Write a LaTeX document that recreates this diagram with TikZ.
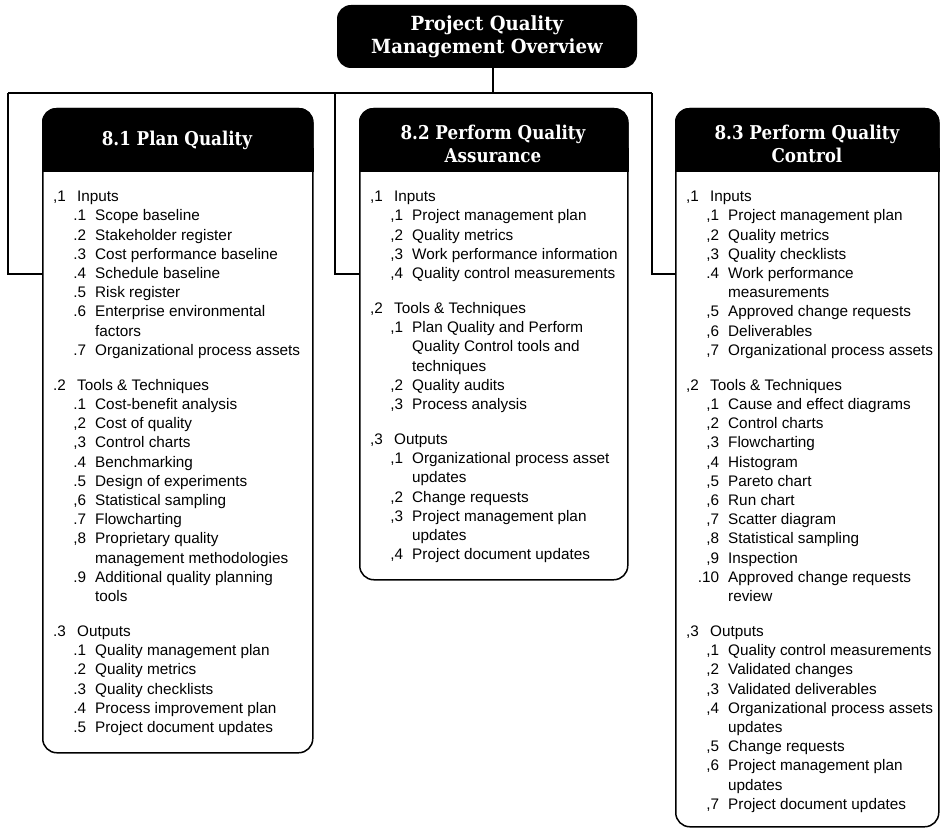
\documentclass[tikz,border=0pt]{standalone}
\usepackage{fontspec}
\setmainfont{Liberation Sans}
\newfontfamily\slab{DejaVu Serif}[FakeStretch=0.88]
\newfontfamily\slabwide{DejaVu Serif}[FakeStretch=0.93]
\usetikzlibrary{calc}
\newcommand\lone[2]{\makebox[24pt][l]{#1}#2}
\newcommand\ltwo[2]{\makebox[33pt][r]{#1}\hspace{9pt}#2}
\begin{document}
\begin{tikzpicture}[x=1pt,y=-1pt,
  boxbody/.style={draw, line width=1.5pt, rounded corners=14pt, anchor=north west, inner sep=0pt},
  headtext/.style={text=white, align=center, font=\slab\bfseries\fontsize{19}{23}\selectfont},
  titlebox/.style={fill=black, rounded corners=14pt, minimum width=300pt, minimum height=63pt, inner sep=0pt, text=white, align=center, font=\slabwide\bfseries\fontsize{19.5}{23}\selectfont},
  bodytext/.style={anchor=north west, inner sep=0pt, align=left, font=\fontsize{15.3}{19.2}\selectfont},
  link/.style={draw, line width=1.5pt}]
\useasboundingbox (0,0) rectangle (940,829);

% title
\node[titlebox] (title) at (487,36.5) {Project Quality\\Management Overview};

% boxes
\node[boxbody, minimum width=270pt, minimum height=644pt] (b1) at (42,108) {};
\node[boxbody, minimum width=268pt, minimum height=471pt] (b2) at (359,108) {};
\node[boxbody, minimum width=263pt, minimum height=718pt] (b3) at (675,108) {};

% header bands
\foreach \b in {b1,b2,b3}{
  \fill[rounded corners=14pt] (\b.north west) rectangle ($(\b.north east)+(0,64)$);
  \fill ($(\b.north west)+(0,40)$) rectangle ($(\b.north east)+(0,64)$);
}
\node[headtext] (h1) at (177,140) {8.1 Plan Quality};
\node[headtext] (h2) at (493,143.5) {8.2 Perform Quality\\Assurance};
\node[headtext] (h3) at (807,143.5) {8.3 Perform Quality\\Control};

% connectors
\coordinate (top) at (493,93);
\coordinate (j1) at (8,93);
\coordinate (j2) at (335,93);
\coordinate (j3) at (652,93);
\coordinate (k1) at (8,274);
\coordinate (k2) at (335,274);
\coordinate (k3) at (652,274);
\draw[link] (title.south -| top) -- (top);
\draw[link] (j1) -- (j3);
\draw[link] (j1) -- (k1) -- (k1 -| b1.west);
\draw[link] (j2) -- (k2) -- (k2 -| b2.west);
\draw[link] (j3) -- (k3) -- (k3 -| b3.west);

% body texts
\node[bodytext] (t1) at (53,191) {%
\lone{,1}{Inputs}\\
\ltwo{.1}{Scope baseline}\\
\ltwo{.2}{Stakeholder register}\\
\ltwo{.3}{Cost performance baseline}\\
\ltwo{.4}{Schedule baseline}\\
\ltwo{.5}{Risk register}\\
\ltwo{.6}{Enterprise environmental}\\
\ltwo{}{factors}\\
\ltwo{.7}{Organizational process assets}\\[15.8pt]
\lone{.2}{Tools \& Techniques}\\
\ltwo{.1}{Cost-benefit analysis}\\
\ltwo{,2}{Cost of quality}\\
\ltwo{,3}{Control charts}\\
\ltwo{.4}{Benchmarking}\\
\ltwo{.5}{Design of experiments}\\
\ltwo{,6}{Statistical sampling}\\
\ltwo{.7}{Flowcharting}\\
\ltwo{,8}{Proprietary quality}\\
\ltwo{}{management methodologies}\\
\ltwo{.9}{Additional quality planning}\\
\ltwo{}{tools}\\[15.8pt]
\lone{.3}{Outputs}\\
\ltwo{.1}{Quality management plan}\\
\ltwo{.2}{Quality metrics}\\
\ltwo{.3}{Quality checklists}\\
\ltwo{.4}{Process improvement plan}\\
\ltwo{.5}{Project document updates}};

\node[bodytext] (t2) at (370,191) {%
\lone{,1}{Inputs}\\
\ltwo{,1}{Project management plan}\\
\ltwo{,2}{Quality metrics}\\
\ltwo{,3}{Work performance information}\\
\ltwo{,4}{Quality control measurements}\\[15.8pt]
\lone{,2}{Tools \& Techniques}\\
\ltwo{,1}{Plan Quality and Perform}\\
\ltwo{}{Quality Control tools and}\\
\ltwo{}{techniques}\\
\ltwo{,2}{Quality audits}\\
\ltwo{,3}{Process analysis}\\[15.8pt]
\lone{,3}{Outputs}\\
\ltwo{,1}{Organizational process asset}\\
\ltwo{}{updates}\\
\ltwo{,2}{Change requests}\\
\ltwo{,3}{Project management plan}\\
\ltwo{}{updates}\\
\ltwo{,4}{Project document updates}};

\node[bodytext] (t3) at (686,191) {%
\lone{,1}{Inputs}\\
\ltwo{,1}{Project management plan}\\
\ltwo{,2}{Quality metrics}\\
\ltwo{,3}{Quality checklists}\\
\ltwo{.4}{Work performance}\\
\ltwo{}{measurements}\\
\ltwo{,5}{Approved change requests}\\
\ltwo{,6}{Deliverables}\\
\ltwo{,7}{Organizational process assets}\\[15.8pt]
\lone{,2}{Tools \& Techniques}\\
\ltwo{,1}{Cause and effect diagrams}\\
\ltwo{,2}{Control charts}\\
\ltwo{,3}{Flowcharting}\\
\ltwo{,4}{Histogram}\\
\ltwo{,5}{Pareto chart}\\
\ltwo{,6}{Run chart}\\
\ltwo{,7}{Scatter diagram}\\
\ltwo{,8}{Statistical sampling}\\
\ltwo{,9}{Inspection}\\
\ltwo{.10}{Approved change requests}\\
\ltwo{}{review}\\[15.8pt]
\lone{,3}{Outputs}\\
\ltwo{,1}{Quality control measurements}\\
\ltwo{,2}{Validated changes}\\
\ltwo{,3}{Validated deliverables}\\
\ltwo{,4}{Organizational process assets}\\
\ltwo{}{updates}\\
\ltwo{,5}{Change requests}\\
\ltwo{,6}{Project management plan}\\
\ltwo{}{updates}\\
\ltwo{,7}{Project document updates}};
\end{tikzpicture}
\end{document}
